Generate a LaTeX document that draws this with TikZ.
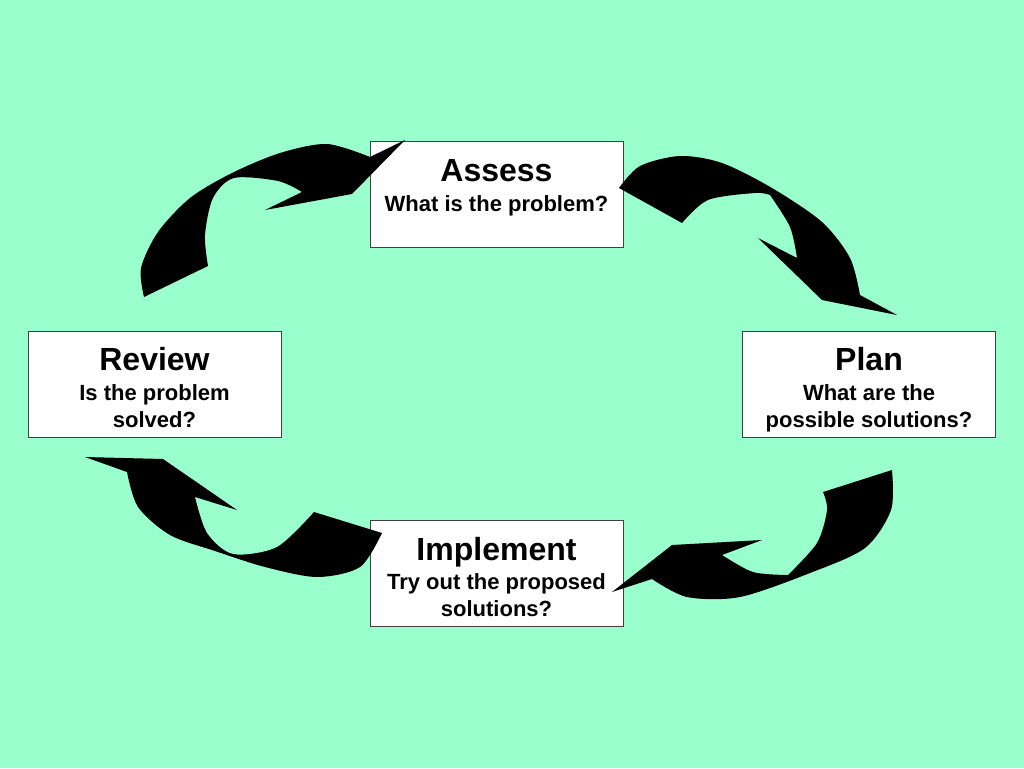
\documentclass[tikz,border=0pt]{standalone}
\usepackage{fontspec}
\setmainfont{Liberation Sans}
\definecolor{bg}{HTML}{99FFCC}
\tikzset{
 box/.style={draw=black!75, line width=1pt, fill=white, minimum width=253pt, minimum height=106pt, inner sep=0pt, anchor=north west},
 ttl/.style={anchor=base, font=\bfseries\fontsize{32}{38}\selectfont, inner sep=0pt},
 sub/.style={anchor=base, font=\bfseries\fontsize{22}{26}\selectfont, inner sep=0pt},
 arr/.style={fill=black}
}
\begin{document}
\begin{tikzpicture}[x=1pt,y=-1pt]
\fill[bg] (0,0) rectangle (1024,768);
\useasboundingbox (0,0) rectangle (1024,768);
% boxes
\node[box] (assess) at (370,141) {};
\node[box] (review) at (28,331) {};
\node[box] (plan) at (742,331) {};
\node[box] (impl) at (370,520) {};
% arrows
\fill[arr] (144,297) -- plot[smooth] coordinates {(208,266) (205,235) (213,198) (234,178) (278,181) (302,192)} -- (265,210) -- (352,194) -- (405,140) -- plot[smooth] coordinates {(370,157) (327,144) (280,153) (232,173) (190,198) (158,232) (141,268) (144,297)} -- cycle;
\fill[arr] (619,188) -- (682,223) -- plot[smooth] coordinates {(682,223) (708,200) (755,193) (770,195)} -- plot[smooth] coordinates {(770,195) (790,227) (797,258)} -- (758,238) -- (822,300) -- (897,315) -- plot[smooth] coordinates {(860,295) (850,258) (822,222) (772,188) (722,163) (680,156) (640,166) (619,188)} -- cycle;
\fill[arr] (85,457) -- (163,459) -- (237,510) -- plot[smooth] coordinates {(195,497) (207,533) (233,554) (277,547) (314,512)} -- (382,533) -- plot[smooth] coordinates {(382,533) (360,567) (317,577) (265,567) (215,551) (170,535) (138,507) (127,472)} -- cycle;
\fill[arr] (892,470) -- (823,492) -- plot[smooth] coordinates {(823,492) (827,510) (817,543) (788,575)} -- plot[smooth] coordinates {(788,575) (753,572) (722,555)} -- (762,540) -- (672,545) -- (612,592) -- plot[smooth] coordinates {(652,579) (687,597) (740,597) (810,573) (865,548) (891,510) (892,470)} -- cycle;
% texts
\node[ttl] (assessT) at (496.5,181) {Assess};
\node[sub] (assessS) at (496.5,211) {What is the problem?};
\node[ttl] (reviewT) at (154.5,370) {Review};
\node[sub] (reviewS1) at (154.5,400) {Is the problem};
\node[sub] (reviewS2) at (154.5,427) {solved?};
\node[ttl] (planT) at (869,370) {Plan};
\node[sub] (planS1) at (869,400) {What are the};
\node[sub] (planS2) at (869,427) {possible solutions?};
\node[ttl] (implT) at (496.5,560) {Implement};
\node[sub] (implS1) at (496.5,589) {Try out the proposed};
\node[sub] (implS2) at (496.5,616) {solutions?};
\end{tikzpicture}
\end{document}
